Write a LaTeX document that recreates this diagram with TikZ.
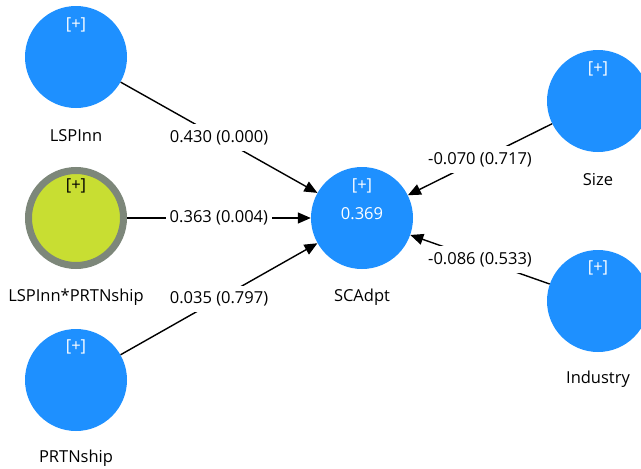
\documentclass[tikz,border=0pt]{standalone}
\usepackage{fontspec}
\setmainfont{Open Sans}
\usetikzlibrary{arrows.meta}
\definecolor{lvblue}{RGB}{30,144,255}
\definecolor{lvgreen}{RGB}{200,222,50}
\definecolor{lvgrey}{RGB}{125,135,122}
\tikzset{
  lv/.style={circle, fill=lvblue, minimum size=102pt, inner sep=0pt, draw=none},
  lvmod/.style={circle, fill=lvgreen, draw=lvgrey, line width=7pt, minimum size=95pt, inner sep=0pt},
  txt/.style={font=\fontsize{16.5pt}{19pt}\selectfont, inner sep=0pt},
  plus/.style={txt, text=white},
  plusk/.style={txt, text=black},
  path/.style={line width=1.4pt, -{Triangle[length=13pt,width=11pt]}},
  coef/.style={txt, fill=white, inner xsep=4pt, inner ysep=6pt}
}
\begin{document}
\begin{tikzpicture}[x=1pt,y=-1pt]
\useasboundingbox (0,0) rectangle (641,469);
% latent variables
\node[lv] (lsp) at (76,57) {};
\node[lvmod] (mod) at (76,218) {};
\node[lv] (prt) at (76,380) {};
\node[lv] (sca) at (362,218) {};
\node[lv] (size) at (598,101) {};
\node[lv] (ind) at (598,301) {};
% inner texts
\node[plus] (lspp) at (76,25) {[+]};
\node[plusk] (modp) at (76,186) {[+]};
\node[plus] (prtp) at (76,347) {[+]};
\node[plus] (scap) at (362,186) {[+]};
\node[plus] (scar) at (362,214) {0.369};
\node[plus] (sizep) at (598,69) {[+]};
\node[plus] (indp) at (598,268) {[+]};
% names
\node[txt] (lspl) at (76,136) {LSPInn};
\node[txt] (modl) at (76,297) {LSPInn*PRTNship};
\node[txt] (prtl) at (76,458) {PRTNship};
\node[txt] (scal) at (362,297) {SCAdpt};
\node[txt] (sizel) at (598,180) {Size};
\node[txt] (indl) at (598,379) {Industry};
% paths
\draw[path] (lsp) -- node[coef] (c1) {0.430 (0.000)} (sca);
\draw[path] (mod) -- node[coef] (c2) {0.363 (0.004)} (sca);
\draw[path] (prt) -- node[coef] (c3) {0.035 (0.797)} (sca);
\draw[path] (size) -- node[coef] (c4) {-0.070 (0.717)} (sca);
\draw[path] (ind) -- node[coef] (c5) {-0.086 (0.533)} (sca);
\end{tikzpicture}
\end{document}
